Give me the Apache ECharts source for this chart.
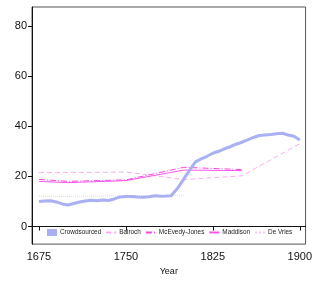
<!DOCTYPE html>
<html>
<head>
<meta charset="utf-8">
<script src="https://cdn.jsdelivr.net/npm/echarts@6/dist/echarts.min.js"></script>
<style>
  html, body { margin: 0; padding: 0; background: #fff; }
  #chart { width: 315px; height: 281px; }
</style>
</head>
<body>
<div id="chart"></div>
<script>
// values
var crowdYears = [1675, 1680, 1685, 1690, 1695, 1700, 1705, 1710, 1715, 1720, 1725, 1730, 1735, 1740, 1745, 1750,
    1755, 1760, 1765, 1770, 1775, 1780, 1785, 1789, 1795, 1800, 1805, 1810, 1815, 1820, 1825, 1830, 1835,
    1840, 1845, 1850, 1855, 1860, 1865, 1870, 1875, 1880, 1885, 1890, 1895, 1900];
var crowdValues = [10, 10.2, 10.3, 9.8, 9, 8.6, 9.2, 9.8, 10.2, 10.5, 10.3, 10.6, 10.4, 11, 11.8, 12,
    12, 11.8, 11.7, 11.9, 12.3, 12.1, 12.2, 12.3, 15.5, 19, 22.5, 25.8, 27, 28, 29.2, 30, 31,
    31.8, 32.8, 33.6, 34.5, 35.5, 36.3, 36.5, 36.7, 37, 37.2, 36.5, 36, 34.5];
var bairochYears = [1675, 1700, 1750, 1800, 1850, 1900];
var bairochValues = [21.5, 21.5, 21.7, 18.7, 20.2, 33];
var mcevedyYears = [1675, 1700, 1750, 1800, 1850];
var mcevedyValues = [18.8, 18, 18.6, 23.6, 22.7];
var maddisonYears = [1675, 1700, 1750, 1800, 1850];
var maddisonValues = [18, 17.5, 18.3, 22.5, 22.3];
var devriesYears = [1675, 1700, 1750, 1800];
var devriesValues = [12, 12, 12.3, 12.5];
var xTicks = [1675, 1750, 1825, 1900];
var yTicks = [0, 20, 40, 60, 80];

function pairs(xs, ys) {
    var out = [];
    for (var i = 0; i < xs.length; i++) out.push([xs[i], ys[i]]);
    return out;
}

var font = 'Liberation Sans, Arial, sans-serif';
var hideDot = {opacity: 0};
var myChart = echarts.init(document.getElementById('chart'));
var option = {
    animation: false,
    grid: {left: 32, top: 7, right: 6, bottom: 32, show: true, borderColor: '#555', borderWidth: 1},
    legend: {
        left: 47, top: 229, padding: 0, itemWidth: 10, itemHeight: 7, itemGap: 4,
        textStyle: {fontSize: 6.4, fontFamily: font, color: '#222', padding: [0, 0, 0, -2]},
        data: [
            {name: 'Crowdsourced', icon: 'rect'},
            {name: 'Bairoch', itemStyle: hideDot},
            {name: 'McEvedy-Jones', itemStyle: hideDot},
            {name: 'Maddison', itemStyle: hideDot},
            {name: 'De Vries', itemStyle: hideDot}
        ]
    },
    xAxis: {
        type: 'value', min: 1669, max: 1905,
        name: 'Year', nameLocation: 'middle', nameGap: 22,
        nameTextStyle: {fontSize: 9, fontFamily: font, color: '#111'},
        axisLine: {lineStyle: {color: '#111'}},
        axisTick: {show: true, length: 4, lineStyle: {color: '#111'}, customValues: xTicks},
        axisLabel: {fontSize: 11, fontFamily: font, color: '#111', margin: 7, customValues: xTicks,
            formatter: function (v) { return String(v); }},
        splitLine: {show: false}
    },
    yAxis: {
        type: 'value', min: -7, max: 87.5,
        axisLine: {show: true, lineStyle: {color: '#111'}},
        axisTick: {show: true, length: 4, lineStyle: {color: '#111'}, customValues: yTicks},
        axisLabel: {fontSize: 11, fontFamily: font, color: '#111', margin: 5, customValues: yTicks},
        splitLine: {show: false}
    },
    series: [
        {name: 'De Vries', type: 'line', symbol: 'none', data: pairs(devriesYears, devriesValues),
            color: '#ffc4f2', lineStyle: {width: 1, type: 'dotted'}},
        {name: 'Bairoch', type: 'line', symbol: 'none', data: pairs(bairochYears, bairochValues),
            color: '#ffaaf0', lineStyle: {width: 1, type: [5, 3]}},
        {name: 'Maddison', type: 'line', symbol: 'none', data: pairs(maddisonYears, maddisonValues),
            color: '#ff55ee', lineStyle: {width: 1}},
        {name: 'McEvedy-Jones', type: 'line', symbol: 'none', data: pairs(mcevedyYears, mcevedyValues),
            color: '#ff44e0', lineStyle: {width: 1, type: [6, 2, 1, 2]}},
        {name: 'Crowdsourced', type: 'line', symbol: 'none', data: pairs(crowdYears, crowdValues),
            color: '#aab0f4', lineStyle: {width: 3}}
    ]
};
myChart.setOption(option);
</script>
</body>
</html>
